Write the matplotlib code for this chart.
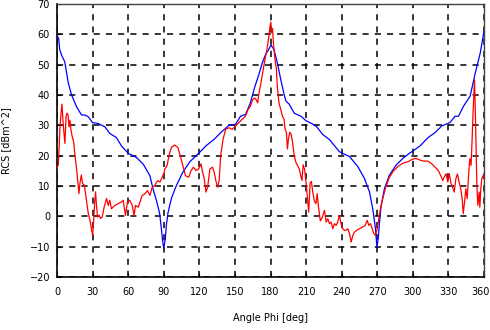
import matplotlib
matplotlib.use("Agg")
import matplotlib.pyplot as plt
from matplotlib.transforms import ScaledTranslation

blue_phi = [0, 1.4, 2.3, 4, 6.5, 9.5, 12.3, 16.5, 20.7, 23.6, 26.4, 30, 34.8, 40.4, 44.6,
            50, 54.4, 60, 67, 72.7, 78.3, 81, 84, 86.5, 88, 89, 90, 91.3, 92.2, 93.5,
            96.5, 100.5, 106, 112, 120, 125.5, 132.5, 139.4, 145, 150.5, 154.7, 159,
            163, 167, 170, 173, 176, 178.5, 180.3, 182.9, 185.7, 188.6, 191.4, 193,
            195.7, 200, 205.7, 210, 215.7, 219, 224, 229.7, 238.1, 246.6, 253.6,
            259.2, 263.4, 266.2, 268.5, 269.7, 270.8, 271.9, 273.3, 276.1, 280.3,
            285.9, 291.6, 297.2, 301.4, 306, 313, 318.7, 324.4, 331.3, 335.6, 338.5,
            342.7, 348.3, 352.6, 356.8, 360]
blue_rcs = [59.5, 58.7, 55, 53, 51, 44, 40, 36.1, 33.4, 33.4, 32.8, 30.9, 30.6, 29.5, 27.3,
            26, 23.2, 20.8, 19.4, 17.2, 13.4, 9, 5, 1, -4, -8, -10.5, -7.5, -3, 1,
            6, 10, 14.5, 18, 21, 23.2, 25.4, 28.1, 30, 30.3, 33, 33.6,
            37.4, 43, 46.5, 50.5, 53.5, 55, 56.5, 55, 50.7, 45.2, 40.3, 38,
            37, 34, 33, 31.5, 30.4, 29.5, 27, 25.3, 21.3, 19.7, 16.4,
            12.5, 8.1, 2.5, -4, -10.2, -7.4, -2, 3.6, 9.2, 13.6,
            16.9, 19.1, 20.8, 21.9, 23.2, 26, 27.6, 29.8, 30.9, 33, 33,
            36.3, 39.6, 47.2, 53.8, 61]

red_phi = [0, 1.1, 1.7, 2.5, 3.4, 4.2, 5, 5.9, 6.7, 7.6, 8.4, 9.3, 10.1, 10.9, 11.8, 12.9,
           14, 15.1, 16.3, 17.4, 18.5, 19.3, 20.5, 21.6, 23, 24.1, 25.2, 26.4, 27.8, 29.2,
           30, 30.8, 31.7, 32.5, 33.4, 34.2, 35.3, 36.7, 38.1, 39.8, 41.8, 43.2, 44.5,
           45.9, 48.7, 51.5, 54.4, 55.8, 57.7, 59.4, 61.4, 63.4, 65, 66.2, 68.5, 69.9,
           71.8, 74.1, 76.3, 78.3, 80.3, 82.5, 84.8, 86.8, 88.7, 90.4, 90.8, 92.8, 94.4,
           96.4, 99.2, 101.9, 103.9, 106.1, 108.3, 111.1, 113, 115, 117.2, 119.4, 121.4,
           122.8, 124.2, 125.6, 127, 128.9, 131.1, 132.5, 133.9, 135.3, 136.7, 138, 140,
           142.2, 145, 147.8, 150.5, 153.3, 156.1, 158.9, 161.1, 163, 165, 166.7, 167.8,
           169.2, 170, 171.5, 173, 175, 177, 178.5, 179.5, 180.3, 181, 181.7, 182.5,
           183.7, 185, 185.7, 187.1, 188.6, 190, 191.4, 192.3, 193.4, 194.3, 195.1,
           196.3, 197.4, 198.6, 200, 201.4, 202.9, 204.3, 205.7, 206.6, 207.5, 208.7,
           210, 211.4, 212.2, 213.4, 214.5, 215.6, 217, 218.4, 219.3, 220.5, 222, 223.5,
           225.5, 226.9, 228.3, 229.7, 231.1, 232.5, 233.9, 235.3, 236.7, 238.1, 239.5,
           240.9, 242.3, 243.7, 245.2, 246.6, 248, 249.4, 250.8, 252.7, 255, 257.8,
           259.8, 261.5, 262.9, 264.3, 265.7, 267.1, 268.5, 270, 271.3, 272.7, 274.7,
           276.9, 279.8, 283.1, 287.3, 291.6, 295.8, 300, 302.8, 305.6, 309, 312.7, 316,
           318.7, 321.5, 323.5, 325.2, 326.5, 328, 329.5, 330.8, 332.2, 333.5, 334.9,
           336.3, 337.6, 339, 340.4, 341.7, 342.5, 343.6, 344.7, 345.8, 347.2, 348,
           349.1, 349.9, 350.7, 351.3, 352, 352.6, 353.4, 354, 354.8, 355.9, 356.5,
           357.3, 358.1, 360]
red_rcs = [16, 17, 22, 29.5, 34, 37, 31.7, 27.3, 24, 32.8, 34, 33.4, 29.5, 31.7, 28.4, 26.2,
           24.6, 20.2, 16.3, 11.9, 7.5, 10.8, 13.6, 10.8, 10.3, 7.5, 4.2, 0.9, -1.3, -4.6,
           -6.3, -2.4, 4.2, 8.1, 3.1, -0.2, 0.4, -0.7, -0.2, 3.1, 5.9, 3.6, 5.3,
           2.5, 3.6, 4.2, 4.7, 5.3, 0.3, 4.7, 5.3, 3.6, 0.3, 3.6, 3, 4.7,
           6.9, 7.4, 8.5, 6.9, 9.6, 10.2, 11.8, 11.3, 12.9, 14.5, 15.6, 16.7, 20,
           22.7, 23.5, 22.7, 20, 16.7, 13.4, 12.9, 15.1, 16.2, 15.1, 15.6, 17.3,
           14.5, 12.3, 8, 9.6, 15.6, 16.2, 14.5, 11.8, 9.6, 11.8, 20, 25.4,
           28.7, 29.2, 28.7, 29.8, 30.9, 32, 33, 35.2, 36.3, 38.5, 39, 38.5,
           37.4, 40, 43, 46.5, 51, 55, 59, 62.5, 64, 60.5, 62, 57,
           52, 48.5, 43, 37.5, 35.3, 33.1, 32, 28.8, 27.7, 22.2, 25.5,
           27.7, 27.1, 24.4, 20, 17.8, 16.7, 15.6, 13, 11.8, 17, 15.6,
           11, 4.8, 1.4, 11, 11.5, 8.1, 5, 4.2, 7.5, 3, -1.5, -0.5,
           2, -1.9, -0.8, -2.4, -1.9, -4.1, -2.4, -3, -1.9, 0.3, -2.4,
           -4.1, -4.6, -4.6, -4.1, -5.7, -8.5, -6.3, -5.2, -4.6, -4.1, -3.5,
           -3, -1.3, -3, -2.4, -4.1, -5.7, -6.3, -4.1, -0.8, 2.5, 5.9,
           9.2, 12.5, 14.7, 16.4, 17.5, 18, 18.9, 19.1, 18.6, 18.2, 18.2, 17.3,
           16.2, 15.1, 13.4, 11.8, 13, 14, 11.3, 14, 10.8, 9.7, 8,
           12.4, 14, 11.3, 9.1, 5.3, 0.9, 4.7, 9.1, 5.8, 14.6, 19,
           16.8, 24.5, 33.3, 38.8, 45, 36, 22, 10.2, 3.6, 8, 3,
           9, 12.4, 14]

x_ticks = list(range(0, 361, 30))
y_ticks = list(range(-20, 71, 10))

fig = plt.figure(figsize=(4.9, 3.3), dpi=100)
ax = fig.add_axes([57/490, 1 - 277/330, 427/490, 273/330])

ax.plot(blue_phi, blue_rcs, color='#0000ff', lw=0.9, zorder=3)
ax.plot(red_phi, red_rcs, color='#ff0000', lw=0.9, zorder=4)

ax.set_xlim(0, 360)
ax.set_ylim(-20, 70)
ax.set_xticks(x_ticks)
ax.set_yticks(y_ticks)
ax.tick_params(direction='in', length=3, labelsize=7, color='black')
ax.tick_params(axis='x', pad=7)
ax.tick_params(axis='y', pad=5)
ax.grid(True, color='black', linestyle=(0, (4, 4)), linewidth=1.1)
ax.set_axisbelow(True)
for side in ['left', 'bottom']:
    ax.spines[side].set_linewidth(1.2)
    ax.spines[side].set_color('black')
for side in ['top', 'right']:
    ax.spines[side].set_linewidth(1.0)
    ax.spines[side].set_color('#444444')

# shift the last x tick label slightly left so it stays inside the figure
last = ax.get_xticklabels()[-1]
last.set_transform(last.get_transform() + ScaledTranslation(-4/100, 0, fig.dpi_scale_trans))

ax.set_xlabel('Angle Phi [deg]', fontsize=7, labelpad=12)
ax.set_ylabel('RCS [dBm^2]', fontsize=7, labelpad=13)

fig.savefig('out.png', dpi=100)
